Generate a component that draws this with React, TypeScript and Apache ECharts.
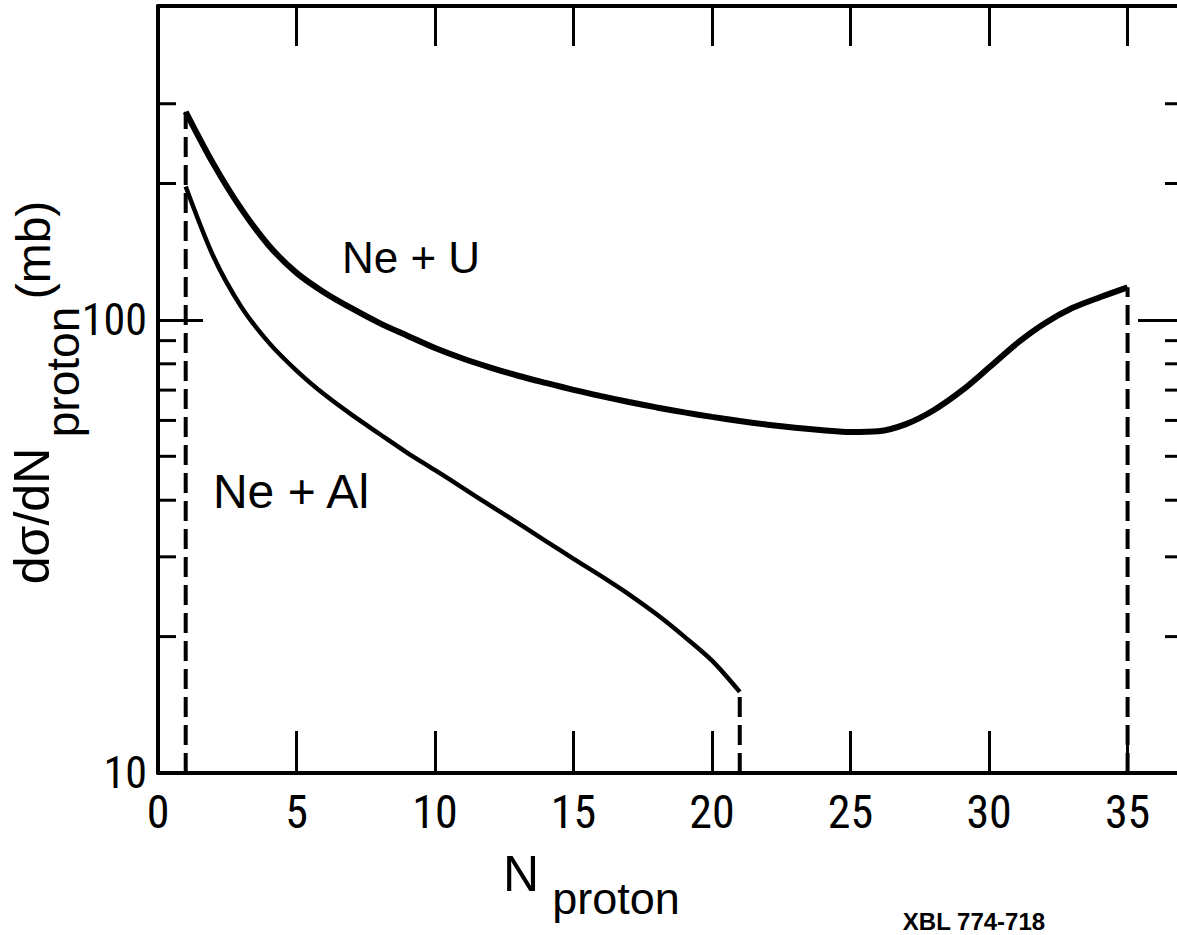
import React, { useEffect, useRef } from "react";
import * as echarts from "echarts";

// ---- data ----
const N_PROTON_U = [1, 2, 3, 4, 5, 6, 7, 8, 9, 10, 11, 12, 13, 14, 15, 16, 17, 18, 19, 20, 21, 22, 23, 24, 25, 26, 27, 28, 29, 30, 31, 32, 33, 34, 35];
const NE_U = [288, 221, 176, 146, 127, 115, 106, 98.4, 92.3, 86.7, 82.2, 78.5, 75.3, 72.6, 70.1, 67.9, 65.9, 64.1, 62.5, 61.1, 59.8, 58.7, 57.8, 57.1, 56.6, 56.8, 58.9, 63.2, 69.7, 78.5, 88.7, 98.2, 106.2, 112.2, 118];

const N_PROTON_AL = [1, 2, 3, 4, 5, 6, 7, 8, 9, 10, 11, 12, 13, 14, 15, 16, 17, 18, 19, 20, 21];
const NE_AL = [197, 138, 107, 89.1, 77.3, 68.5, 61.7, 56.0, 50.9, 46.6, 42.6, 38.9, 35.6, 32.5, 29.7, 27.2, 24.8, 22.4, 20.0, 17.7, 15.1];

const X_MIN = 0;
const X_MAX = 37;
const X_INTERVAL = 5;
const X_LAST_LABEL = 35;
const Y_MIN = 10;
const Y_MAX = 493;
const Y_LABELS = [10, 100];
const Y_MINOR_TICKS = [20, 30, 40, 50, 60, 70, 80, 90, 200, 300];

const NARROW = '"Liberation Sans Narrow", "Roboto Condensed", "DejaVu Sans Condensed", sans-serif';
const SANS = '"Liberation Sans", Arial, sans-serif';

export default function App() {
  const ref = useRef<HTMLDivElement>(null);

  useEffect(() => {
    if (!ref.current) return;
    const chart = echarts.init(ref.current, undefined, { renderer: "svg" });

    const dash = { color: "#000", width: 4, type: [20, 8] as any };
    const axisLine = { show: true, onZero: false, lineStyle: { color: "#000", width: 4 } };

    const option: any = {
      animation: false,
      backgroundColor: "#fff",
      grid: { left: 158, right: 17, top: 6, bottom: 162 },
      xAxis: [
        {
          type: "value",
          min: X_MIN,
          max: X_MAX,
          interval: X_INTERVAL,
          position: "bottom",
          axisLine,
          axisTick: { show: true, inside: true, length: 42, lineStyle: { color: "#000", width: 3 } },
          axisLabel: {
            show: true,
            margin: 16,
            fontSize: 46,
            color: "#000",
            fontFamily: NARROW,
            formatter: (v: number) => (v % X_INTERVAL === 0 && v <= X_LAST_LABEL ? String(v) : ""),
          },
          splitLine: { show: false },
        },
        {
          type: "value",
          min: X_MIN,
          max: X_MAX,
          interval: X_INTERVAL,
          position: "top",
          axisLine,
          axisTick: { show: true, inside: true, length: 40, lineStyle: { color: "#000", width: 3 } },
          axisLabel: { show: false },
          splitLine: { show: false },
        },
      ],
      yAxis: [
        {
          type: "log",
          logBase: 10,
          min: Y_MIN,
          max: Y_MAX,
          position: "left",
          axisLine,
          axisTick: { show: true, inside: true, length: 45, lineStyle: { color: "#000", width: 3 } },
          axisLabel: {
            show: true,
            margin: 11,
            fontSize: 44,
            color: "#000",
            fontFamily: NARROW,
            formatter: (v: number) => (Y_LABELS.includes(Math.round(v)) ? String(Math.round(v)) : ""),
          },
          splitLine: { show: false },
        },
        {
          type: "log",
          logBase: 10,
          min: Y_MIN,
          max: Y_MAX,
          position: "right",
          axisLine,
          axisTick: { show: true, inside: true, length: 45, lineStyle: { color: "#000", width: 3 } },
          axisLabel: { show: false },
          splitLine: { show: false },
        },
      ],
      series: [
        {
          type: "custom",
          xAxisIndex: 0,
          yAxisIndex: 0,
          silent: true,
          clip: false,
          data: Y_MINOR_TICKS.map((v) => [X_MIN, v]),
          renderItem: (params: any, api: any) => {
            const v = api.value(1);
            const l = api.coord([X_MIN, v]);
            const r = api.coord([X_MAX, v]);
            return {
              type: "group",
              children: [
                { type: "line", shape: { x1: l[0], y1: l[1], x2: l[0] + 18, y2: l[1] }, style: { stroke: "#000", lineWidth: 3 } },
                { type: "line", shape: { x1: r[0] - 18, y1: r[1], x2: r[0], y2: r[1] }, style: { stroke: "#000", lineWidth: 3 } },
              ],
            };
          },
        },
        {
          name: "Ne + U",
          type: "line",
          data: N_PROTON_U.map((x, i) => [x, NE_U[i]]),
          smooth: 0.3,
          symbol: "none",
          lineStyle: { color: "#000", width: 6 },
          z: 4,
        },
        {
          name: "Ne + Al",
          type: "line",
          data: N_PROTON_AL.map((x, i) => [x, NE_AL[i]]),
          smooth: 0.3,
          symbol: "none",
          lineStyle: { color: "#000", width: 4.5 },
          z: 4,
        },
        {
          type: "line",
          data: [[N_PROTON_U[0], Y_MIN], [N_PROTON_U[0], NE_U[0]]],
          symbol: "none",
          lineStyle: dash,
          z: 3,
        },
        {
          type: "line",
          data: [[N_PROTON_AL[N_PROTON_AL.length - 1], Y_MIN], [N_PROTON_AL[N_PROTON_AL.length - 1], NE_AL[NE_AL.length - 1]]],
          symbol: "none",
          lineStyle: dash,
          z: 3,
        },
        {
          type: "line",
          data: [[N_PROTON_U[N_PROTON_U.length - 1], Y_MIN], [N_PROTON_U[N_PROTON_U.length - 1], NE_U[NE_U.length - 1]]],
          symbol: "none",
          lineStyle: dash,
          z: 3,
        },
      ],
      graphic: [
        { type: "text", x: 411, y: 257, style: { text: "Ne + U", fontSize: 44, fontFamily: SANS, fill: "#000", align: "center", verticalAlign: "middle" } },
        { type: "text", x: 291, y: 491, style: { text: "Ne + Al", fontSize: 48, fontFamily: SANS, fill: "#000", align: "center", verticalAlign: "middle" } },
        { type: "text", x: 32, y: 516, rotation: Math.PI / 2, style: { text: "dσ/dN", fontSize: 50, fontFamily: SANS, fill: "#000", align: "center", verticalAlign: "middle" } },
        { type: "text", x: 63, y: 372, rotation: Math.PI / 2, style: { text: "proton", fontSize: 46, fontFamily: SANS, fill: "#000", align: "center", verticalAlign: "middle" } },
        { type: "text", x: 33, y: 250, rotation: Math.PI / 2, style: { text: "(mb)", fontSize: 48, fontFamily: SANS, fill: "#000", align: "center", verticalAlign: "middle" } },
        { type: "text", x: 521, y: 874, style: { text: "N", fontSize: 50, fontFamily: SANS, fill: "#000", align: "center", verticalAlign: "middle" } },
        { type: "text", x: 616, y: 898, style: { text: "proton", fontSize: 45, fontFamily: SANS, fill: "#000", align: "center", verticalAlign: "middle" } },
        { type: "text", x: 974, y: 921, style: { text: "XBL 774-718", fontSize: 24, fontWeight: "bold", fontFamily: SANS, fill: "#000", align: "center", verticalAlign: "middle" } },
      ],
    };

    chart.setOption(option);
    return () => chart.dispose();
  }, []);

  return (
    <div style={{ position: "fixed", left: 0, top: 0, width: 1177, height: 935, overflow: "hidden", background: "#fff" }}>
      <div ref={ref} style={{ width: 1200, height: 935 }} />
    </div>
  );
}
